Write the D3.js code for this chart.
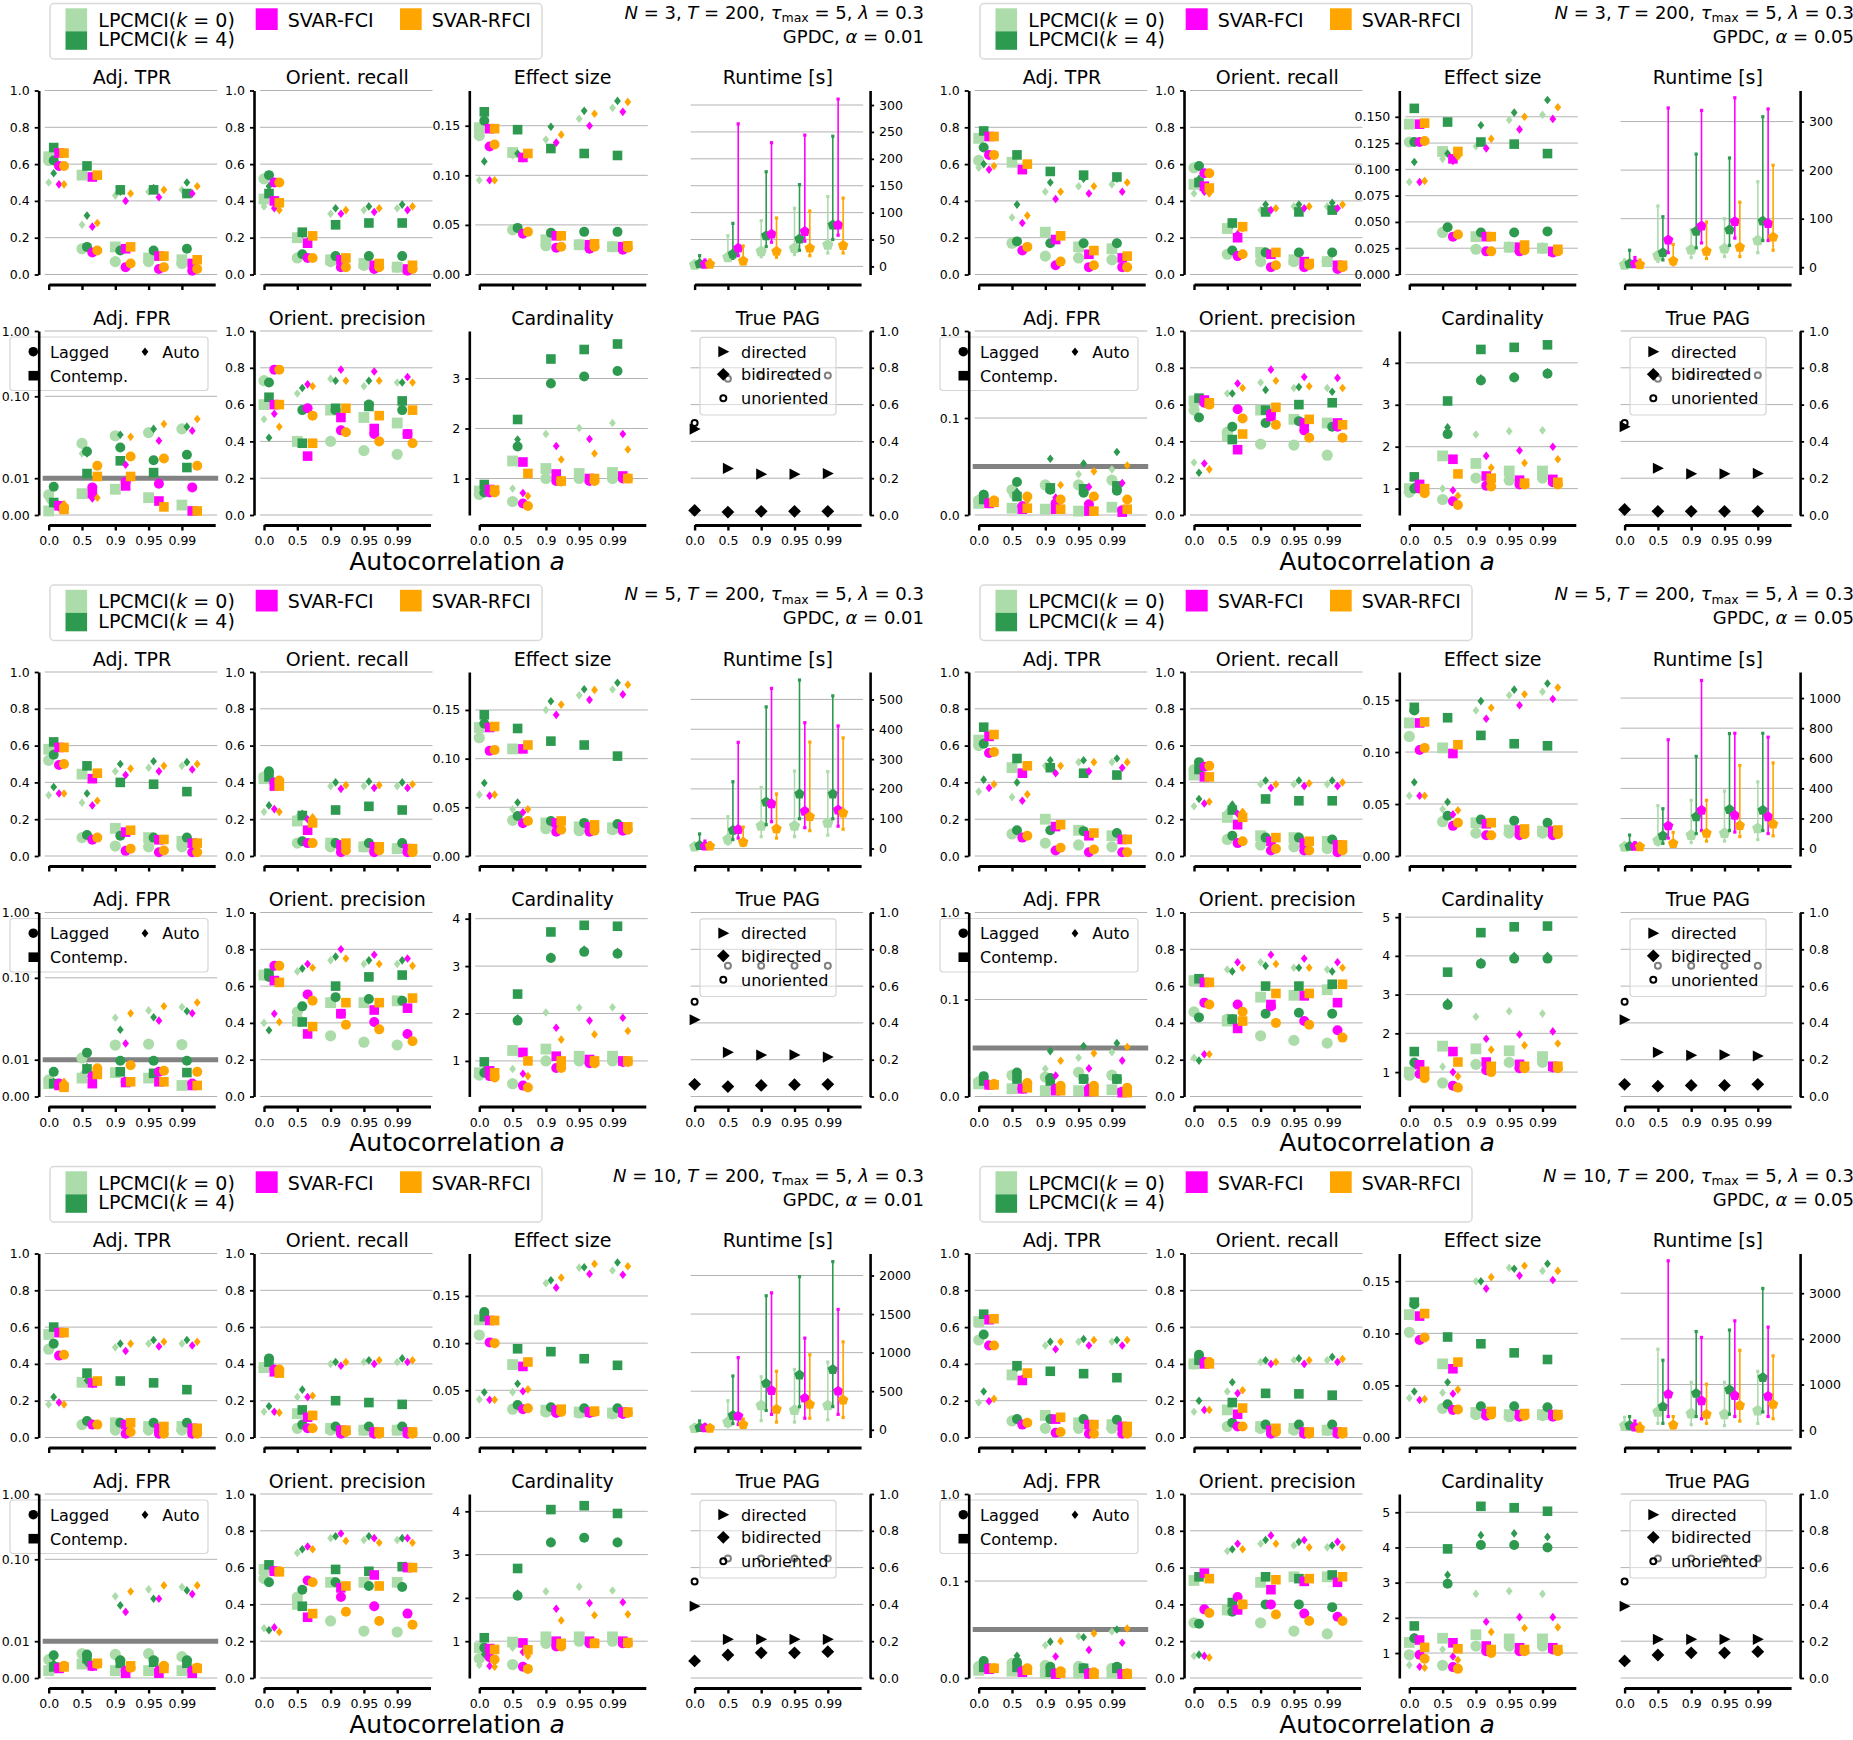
<!DOCTYPE html>
<html>
<head>
<meta charset="utf-8">
<script src="https://cdn.jsdelivr.net/npm/d3@7"></script>
<style>
  body { margin: 0; background: #fff; }
  svg text { font-family: "DejaVu Sans", sans-serif; white-space: pre; }
</style>
</head>
<body>
<div id="chart"></div>
<script>
// categories / labels
const xLabels = ["0.0", "0.5", "0.9", "0.95", "0.99"];
const methodNames = ["LPCMCI(k = 0)", "LPCMCI(k = 4)", "SVAR-FCI", "SVAR-RFCI"];
const panelN = [3, 3, 5, 5, 10, 10];
const panelAlpha = [0.01, 0.05, 0.01, 0.05, 0.01, 0.05];

// every 4x5 array: rows = LPCMCI(k=0), LPCMCI(k=4), SVAR-FCI, SVAR-RFCI ; cols = a 0.0 .. 0.99
// Lag = lagged (circle), Con = contemp. (square), Aut = auto (small diamond)

// panel 1 : N=3, alpha=0.01
const p1TprLag = [[.62,.14,.07,.07,.06],[.62,.15,.13,.13,.14],[.59,.12,.04,.03,.02],[.59,.13,.06,.04,.03]];
const p1TprCon = [[.64,.54,.15,.09,.08],[.69,.59,.46,.46,.44],[.66,.53,.14,.10,.06],[.66,.54,.15,.10,.08]];
const p1TprAut = [[.50,.27,.43,.45,.46],[.55,.32,.45,.47,.50],[.49,.26,.40,.42,.44],[.49,.28,.44,.46,.48]];
const p1OrcLag = [[.52,.09,.07,.05,.04],[.54,.11,.10,.10,.10],[.50,.09,.04,.03,.02],[.50,.09,.04,.04,.03]];
const p1OrcCon = [[.41,.20,.08,.06,.04],[.44,.23,.27,.28,.28],[.40,.17,.08,.05,.03],[.39,.21,.09,.06,.05]];
const p1OrcAut = [[.37,.21,.33,.35,.36],[.48,.22,.36,.37,.38],[.36,.18,.33,.34,.35],[.35,.21,.35,.36,.37]];
const p1EffLag = [[.140,.045,.029,.030,.028],[.155,.047,.042,.043,.043],[.129,.041,.027,.026,.025],[.131,.043,.028,.028,.027]];
const p1EffCon = [[.148,.123,.035,.030,.028],[.164,.146,.127,.122,.120],[.147,.118,.039,.030,.028],[.147,.122,.039,.031,.029]];
const p1EffAut = [[.095,.120,.136,.157,.168],[.114,.122,.149,.165,.175],[.095,.117,.133,.150,.164],[.095,.122,.141,.162,.174]];
const p1RtMean = [[3,17,28,34,40],[5,23,57,51,77],[4,34,60,65,77],[4,10,28,34,39]];
const p1RtLo = [[1,12,18,22,25],[2,15,37,30,50],[2,20,45,47,58],[2,5,17,20,25]];
const p1RtHi = [[8,57,85,108,130],[20,80,176,152,242],[12,265,230,244,311],[12,38,90,103,127]];
const p1FprLag = [[.0055,.0266,.033,.036,.040],[.0077,.0212,.0237,.0166,.0193],[.0025,.0075,.009,.0085,.0075],[.002,.0142,.0184,.0174,.0142]];
const p1FprCon = [[.0011,.0058,.007,.0047,.0027],[.0034,.0114,.0163,.0117,.0135],[.0025,.0058,.0079,.0038,.0011],[.0015,.0105,.0105,.0022,.0011]];
const p1FprAut = [[.004,.02,.032,.035,.04],[.003,.02,.034,.04,.0426],[.002,.0045,.0146,.0287,.038],[.003,.0047,.032,.046,.0529]];
const p1OprLag = [[.73,.40,.40,.35,.33],[.72,.57,.57,.60,.57],[.79,.58,.46,.44,.44],[.79,.54,.45,.40,.39]];
const p1OprCon = [[.60,.40,.57,.53,.50],[.64,.39,.58,.59,.62],[.60,.32,.53,.47,.44],[.60,.39,.58,.54,.57]];
const p1OprAut = [[.52,.66,.74,.70,.72],[.42,.69,.73,.73,.72],[.55,.71,.79,.78,.75],[.48,.70,.73,.73,.72]];
const p1CardLag = [[.68,.54,1.0,1.0,1.0],[.72,1.64,2.9,3.04,3.15],[.72,.50,.95,.95,1.0],[.72,.45,.94,.95,1.0]];
const p1CardCon = [[.75,1.35,1.2,1.1,1.12],[.88,2.18,3.39,3.58,3.69],[.78,1.33,1.09,1.0,1.05],[.77,1.1,.95,1.0,1.0]];
const p1CardAut = [[.75,.80,1.89,2.01,2.11],[.80,1.78,2.92,3.05,3.15],[.75,.71,1.65,1.79,1.89],[.75,.65,1.38,1.5,1.58]];
const p1PagDir = [.467,.253,.222,.222,.225];
const p1PagBid = [.025,.016,.02,.02,.02];
const p1PagUno = [.50,.74,.758,.758,.758];

// panel 2 : N=3, alpha=0.05
const p2TprLag = [[.62,.17,.10,.09,.08],[.69,.18,.17,.17,.17],[.65,.13,.05,.04,.04],[.65,.15,.07,.05,.04]];
const p2TprCon = [[.74,.61,.23,.15,.14],[.78,.65,.56,.54,.53],[.75,.57,.19,.11,.09],[.75,.60,.21,.13,.10]];
const p2TprAut = [[.58,.31,.45,.48,.49],[.60,.38,.50,.52,.52],[.57,.28,.41,.44,.45],[.59,.32,.45,.48,.50]];
const p2OrcLag = [[.58,.11,.07,.07,.07],[.59,.13,.12,.12,.12],[.55,.10,.04,.04,.03],[.55,.11,.05,.05,.04]];
const p2OrcCon = [[.49,.25,.12,.08,.07],[.50,.28,.34,.34,.35],[.48,.20,.11,.07,.05],[.47,.26,.12,.06,.05]];
const p2OrcAut = [[.44,.26,.35,.37,.37],[.52,.27,.38,.38,.39],[.45,.22,.35,.36,.36],[.44,.25,.36,.37,.38]];
const p2EffLag = [[.126,.040,.024,.026,.025],[.126,.045,.040,.040,.041],[.126,.036,.022,.022,.021],[.127,.038,.022,.023,.022]];
const p2EffCon = [[.143,.117,.036,.026,.025],[.158,.145,.126,.124,.115],[.143,.110,.036,.026,.022],[.144,.117,.036,.028,.024]];
const p2EffAut = [[.088,.110,.122,.147,.152],[.107,.115,.142,.154,.166],[.088,.108,.120,.138,.148],[.089,.112,.129,.150,.159]];
const p2RtMean = [[5,24,36,38,55],[7,30,74,77,95],[7,56,85,94,90],[5,13,33,41,62]];
const p2RtLo = [[2,12,20,22,30],[2,15,40,45,55],[3,30,50,60,55],[2,5,18,22,35]];
const p2RtHi = [[15,126,77,100,176],[35,104,233,225,310],[20,328,323,349,326],[15,47,93,134,210]];
const p2FprLag = [[.015,.026,.031,.031,.036],[.021,.034,.026,.023,.025],[.012,.009,.012,.011,.005],[.015,.019,.016,.019,.016]];
const p2FprCon = [[.012,.007,.006,.004,.008],[.016,.019,.028,.027,.030],[.012,.006,.006,.004,.003],[.013,.007,.006,.004,.006]];
const p2FprAut = [[.017,.020,.030,.042,.047],[.022,.024,.058,.053,.065],[.013,.010,.018,.029,.033],[.016,.015,.031,.045,.051]];
const p2OprLag = [[.57,.45,.385,.38,.325],[.53,.48,.50,.51,.48],[.61,.575,.55,.46,.48],[.60,.525,.49,.42,.42]];
const p2OprCon = [[.62,.43,.57,.52,.50],[.635,.41,.57,.60,.61],[.625,.355,.535,.50,.50],[.61,.44,.585,.52,.49]];
const p2OprAut = [[.285,.66,.72,.69,.69],[.23,.66,.68,.695,.67],[.28,.715,.79,.75,.745],[.248,.69,.73,.70,.69]];
const p2CardLag = [[.91,.74,1.25,1.2,1.25],[1.0,2.3,3.58,3.65,3.74],[1.0,.70,1.07,1.1,1.15],[.89,.61,1.05,1.1,1.1]];
const p2CardCon = [[1.0,1.78,1.6,1.42,1.42],[1.28,3.09,4.32,4.37,4.43],[1.1,1.7,1.3,1.2,1.22],[1.0,1.35,1.25,1.13,1.15]];
const p2CardAut = [[1.0,1.0,2.29,2.37,2.39],[1.05,2.46,3.63,3.68,3.78],[1.0,.96,1.78,1.91,2.0],[.95,.83,1.5,1.61,1.7]];
const p2PagDir = [.48,.254,.224,.224,.226];
const p2PagBid = [.03,.02,.02,.02,.02];
const p2PagUno = [.50,.74,.76,.76,.76];

// panel 3 : N=5, alpha=0.01
const p3TprLag = [[.52,.10,.054,.05,.05],[.55,.114,.11,.10,.10],[.495,.088,.028,.02,.02],[.50,.10,.04,.03,.02]];
const p3TprCon = [[.58,.445,.15,.10,.08],[.62,.49,.40,.39,.35],[.59,.42,.13,.088,.07],[.59,.45,.14,.09,.07]];
const p3TprAut = [[.33,.29,.46,.48,.49],[.375,.34,.50,.515,.51],[.34,.275,.44,.46,.47],[.34,.30,.475,.49,.50]];
const p3OrcLag = [[.43,.07,.05,.05,.04],[.46,.08,.07,.07,.07],[.40,.07,.02,.02,.02],[.41,.07,.03,.03,.02]];
const p3OrcCon = [[.42,.19,.07,.05,.04],[.43,.22,.25,.27,.25],[.38,.14,.06,.05,.04],[.38,.18,.07,.05,.04]];
const p3OrcAut = [[.24,.21,.38,.38,.38],[.275,.23,.40,.405,.40],[.255,.20,.365,.37,.37],[.24,.21,.385,.385,.39]];
const p3EffLag = [[.1215,.0366,.028,.026,.027],[.136,.041,.036,.034,.0328],[.108,.0336,.025,.025,.026],[.109,.036,.027,.026,.027]];
const p3EffCon = [[.132,.110,.034,.030,.029],[.145,.131,.118,.114,.1026],[.132,.110,.034,.030,.030],[.133,.114,.036,.032,.030]];
const p3EffAut = [[.063,.048,.150,.165,.171],[.075,.055,.159,.1713,.178],[.062,.045,.145,.1604,.166],[.063,.048,.1555,.1706,.176]];
const p3RtMean = [[6,31,76,76,86],[10,61,156,183,183],[8,64,150,125,129],[8,21,66,107,119]];
const p3RtLo = [[3,15,40,40,45],[4,30,80,100,100],[4,35,90,70,75],[4,10,35,60,65]];
const p3RtHi = [[15,107,205,260,258],[49,224,475,565,512],[25,356,537,422,411],[20,72,183,357,371]];
const p3FprLag = [[.0045,.0105,.0151,.0155,.0153],[.0067,.0122,.0097,.0097,.0097],[.0035,.0055,.004,.0067,.0035],[.003,.0077,.0085,.007,.0067]];
const p3FprCon = [[.0035,.005,.0065,.005,.003],[.0035,.0075,.0067,.0063,.0065],[.003,.0035,.0038,.004,.003],[.0025,.006,.004,.004,.003]];
const p3FprAut = [[.004,.006,.0326,.040,.044],[.004,.008,.0232,.033,.039],[.003,.005,.0158,.030,.037],[.004,.007,.0368,.045,.050]];
const p3OprLag = [[.66,.46,.33,.295,.28],[.65,.49,.54,.53,.52],[.71,.555,.45,.405,.34],[.71,.52,.39,.365,.30]];
const p3OprCon = [[.66,.41,.51,.51,.52],[.67,.405,.60,.65,.66],[.63,.34,.45,.47,.48],[.62,.38,.51,.51,.535]];
const p3OprAut = [[.40,.68,.74,.72,.72],[.36,.695,.76,.74,.74],[.45,.72,.80,.77,.75],[.405,.70,.75,.72,.71]];
const p3CardLag = [[.70,.52,1.0,1.0,1.0],[.75,1.85,3.17,3.3,3.26],[.68,.48,.85,.95,.98],[.65,.44,.85,.95,.98]];
const p3CardCon = [[.75,1.22,1.25,1.1,1.1],[.98,2.41,3.72,3.86,3.84],[.79,1.18,1.1,1.03,1.0],[.75,1.0,1.0,1.0,1.0]];
const p3CardAut = [[.70,.83,2.02,2.12,2.13],[.80,1.9,3.2,3.35,3.3],[.72,.73,1.7,1.85,1.91],[.70,.68,1.45,1.56,1.63]];
const p3PagDir = [.417,.24,.225,.226,.214];
const p3PagBid = [.066,.054,.06,.064,.066];
const p3PagUno = [.515,.71,.71,.71,.71];

// panel 4 : N=5, alpha=0.05
const p4TprLag = [[.60,.12,.07,.06,.05],[.61,.14,.14,.135,.125],[.56,.10,.03,.02,.02],[.565,.11,.045,.035,.02]];
const p4TprCon = [[.63,.48,.20,.14,.11],[.70,.53,.48,.45,.44],[.65,.45,.16,.11,.09],[.66,.49,.17,.125,.09]];
const p4TprAut = [[.35,.32,.49,.51,.51],[.415,.40,.52,.52,.53],[.37,.30,.45,.46,.48],[.39,.335,.49,.51,.51]];
const p4OrcLag = [[.47,.09,.06,.05,.04],[.51,.11,.10,.10,.09],[.485,.07,.03,.03,.02],[.49,.08,.04,.03,.03]];
const p4OrcCon = [[.44,.21,.11,.10,.08],[.47,.25,.31,.30,.30],[.43,.17,.08,.07,.06],[.43,.21,.10,.08,.06]];
const p4OrcAut = [[.27,.24,.39,.39,.39],[.31,.28,.41,.41,.41],[.285,.23,.37,.38,.38],[.295,.24,.39,.395,.40]];
const p4EffLag = [[.115,.033,.022,.022,.022],[.140,.0387,.035,.034,.032],[.102,.029,.020,.020,.020],[.104,.032,.020,.021,.021]];
const p4EffCon = [[.128,.104,.032,.025,.024],[.143,.133,.116,.108,.106],[.128,.0986,.031,.025,.024],[.129,.107,.032,.026,.025]];
const p4EffAut = [[.058,.045,.140,.1546,.158],[.071,.052,.149,.160,.166],[.058,.040,.132,.145,.151],[.058,.044,.1426,.1556,.162]];
const p4RtMean = [[12,54,90,102,134],[15,85,212,260,255],[15,151,255,221,212],[12,34,102,153,163]];
const p4RtLo = [[5,25,40,50,60],[5,35,100,120,120],[6,70,120,110,100],[5,15,50,80,85]];
const p4RtHi = [[30,285,321,382,443],[90,265,613,764,766],[40,723,1117,766,740],[30,107,321,552,569]];
const p4FprLag = [[.015,.022,.020,.025,.022],[.021,.0247,.019,.018,.018],[.012,.008,.008,.008,.005],[.013,.014,.011,.011,.009]];
const p4FprCon = [[.013,.008,.006,.006,.007],[.016,.018,.016,.018,.018],[.012,.008,.006,.005,.004],[.012,.009,.006,.005,.004]];
const p4FprAut = [[.015,.020,.0285,.040,.0456],[.020,.020,.0468,.052,.055],[.013,.010,.0217,.029,.037],[.014,.012,.0369,.0445,.051]];
const p4OprLag = [[.46,.42,.33,.305,.29],[.43,.42,.45,.455,.45],[.51,.50,.49,.41,.36],[.50,.46,.40,.39,.32]];
const p4OprCon = [[.63,.41,.54,.55,.58],[.64,.42,.60,.60,.61],[.62,.37,.50,.547,.51],[.62,.41,.56,.56,.61]];
const p4OprAut = [[.21,.69,.73,.70,.69],[.195,.68,.71,.70,.68],[.23,.73,.77,.75,.73],[.23,.70,.72,.70,.70]];
const p4CardLag = [[.92,.72,1.2,1.25,1.25],[1.25,2.73,3.8,3.93,3.93],[.95,.65,1.05,1.1,1.12],[.84,.60,1.0,1.1,1.1]];
const p4CardCon = [[1.0,1.67,1.6,1.55,1.4],[1.53,3.58,4.6,4.75,4.77],[1.19,1.53,1.26,1.2,1.15],[1.02,1.26,1.15,1.15,1.15]];
const p4CardAut = [[.9,1.14,2.43,2.57,2.51],[1.2,2.8,3.85,4.0,4.0],[1.0,1.0,1.86,1.97,2.05],[.92,.89,1.58,1.69,1.74]];
const p4PagDir = [.417,.24,.224,.226,.22];
const p4PagBid = [.066,.056,.06,.06,.066];
const p4PagUno = [.515,.71,.71,.71,.71];

// panel 5 : N=10, alpha=0.01
const p5TprLag = [[.48,.07,.04,.04,.04],[.51,.09,.08,.08,.08],[.445,.07,.02,.02,.02],[.45,.07,.03,.02,.02]];
const p5TprCon = [[.56,.30,.08,.06,.06],[.60,.35,.307,.297,.26],[.57,.297,.07,.05,.05],[.57,.307,.08,.06,.05]];
const p5TprAut = [[.18,.30,.49,.51,.51],[.22,.31,.51,.53,.53],[.19,.29,.47,.495,.50],[.18,.30,.51,.52,.52]];
const p5OrcLag = [[.38,.05,.04,.04,.04],[.43,.07,.06,.06,.06],[.37,.05,.02,.02,.02],[.37,.05,.03,.02,.02]];
const p5OrcCon = [[.38,.13,.05,.04,.04],[.41,.15,.20,.19,.18],[.357,.11,.04,.03,.03],[.35,.12,.04,.03,.03]];
const p5OrcAut = [[.14,.22,.40,.41,.41],[.17,.26,.41,.42,.43],[.14,.22,.39,.40,.41],[.135,.227,.41,.42,.42]];
const p5EffLag = [[.1086,.030,.027,.026,.025],[.133,.0345,.032,.031,.031],[.1008,.030,.026,.026,.025],[.100,.031,.027,.027,.026]];
const p5EffCon = [[.1247,.0773,.029,.027,.026],[.128,.094,.091,.0835,.0765],[.124,.0753,.029,.027,.027],[.124,.080,.030,.028,.027]];
const p5EffAut = [[.0404,.048,.1635,.180,.177],[.048,.057,.1667,.1804,.1855],[.040,.049,.1588,.1733,.1725],[.040,.051,.1694,.184,.1815]];
const p5RtMean = [[20,100,315,253,315],[30,186,601,711,782],[25,177,510,410,501],[20,67,267,329,386]];
const p5RtLo = [[8,40,120,100,130],[10,80,250,300,300],[10,70,200,150,200],[8,30,100,150,160]];
const p5RtHi = [[50,377,687,782,878],[115,697,1737,1985,2180],[60,935,1775,1188,1560],[50,138,758,973,1140]];
const p5FprLag = [[.005,.0066,.0064,.0066,.0058],[.0062,.0064,.0048,.0048,.0048],[.0028,.0033,.002,.002,.002],[.0033,.0038,.0028,.0033,.0028]];
const p5FprCon = [[.002,.0038,.002,.002,.002],[.003,.0053,.004,.0043,.004],[.0026,.0033,.0013,.0013,.0013],[.003,.004,.0033,.0026,.0026]];
const p5FprAut = [[.003,.004,.0353,.043,.046],[.004,.004,.0274,.033,.0417],[.003,.003,.0228,.033,.0376],[.003,.004,.0404,.048,.048]];
const p5OprLag = [[.54,.44,.31,.255,.25],[.52,.48,.52,.50,.495],[.58,.53,.44,.39,.35],[.58,.52,.36,.31,.29]];
const p5OprCon = [[.59,.40,.52,.52,.52],[.615,.39,.59,.58,.605],[.58,.33,.49,.56,.60],[.577,.35,.50,.50,.60]];
const p5OprAut = [[.27,.68,.76,.75,.75],[.26,.70,.77,.77,.76],[.275,.715,.785,.76,.76],[.25,.70,.745,.735,.735]];
const p5CardLag = [[.60,.46,.95,1.0,1.0],[.85,2.05,3.28,3.39,3.28],[.63,.41,.88,.95,.95],[.58,.36,.88,.95,.95]];
const p5CardCon = [[.85,.98,1.1,1.1,1.1],[1.08,2.68,4.04,4.13,3.95],[.83,.96,1.0,1.0,1.0],[.81,.80,.95,.95,.97]];
const p5CardAut = [[.45,.85,2.15,2.26,2.17],[.70,2.1,3.3,3.4,3.3],[.43,.75,1.75,1.88,1.9],[.41,.66,1.48,1.6,1.62]];
const p5PagDir = [.39,.21,.21,.21,.21];
const p5PagBid = [.093,.125,.137,.137,.143];
const p5PagUno = [.524,.65,.65,.65,.65];

// panel 6 : N=10, alpha=0.05
const p6TprLag = [[.53,.09,.05,.05,.05],[.56,.10,.10,.10,.096],[.50,.07,.026,.02,.02],[.50,.08,.03,.02,.02]];
const p6TprCon = [[.63,.34,.12,.08,.07],[.67,.39,.36,.347,.325],[.64,.31,.10,.07,.06],[.645,.35,.11,.07,.06]];
const p6TprAut = [[.19,.35,.50,.52,.52],[.25,.38,.52,.535,.53],[.197,.32,.48,.50,.50],[.21,.35,.52,.53,.53]];
const p6OrcLag = [[.40,.06,.05,.04,.04],[.45,.08,.07,.07,.07],[.41,.06,.02,.02,.02],[.41,.06,.03,.02,.02]];
const p6OrcCon = [[.40,.15,.06,.05,.04],[.42,.19,.24,.237,.23],[.40,.126,.04,.03,.03],[.40,.16,.05,.03,.03]];
const p6OrcAut = [[.14,.25,.41,.42,.42],[.20,.30,.42,.43,.438],[.15,.24,.40,.40,.41],[.15,.257,.41,.42,.427]];
const p6EffLag = [[.101,.028,.022,.020,.021],[.128,.032,.030,.030,.029],[.0936,.0265,.021,.020,.020],[.096,.027,.022,.021,.021]];
const p6EffCon = [[.118,.0707,.024,.022,.022],[.130,.0965,.090,.0813,.0749],[.1166,.066,.023,.022,.022],[.119,.0724,.025,.023,.022]];
const p6EffAut = [[.038,.043,.150,.163,.160],[.0442,.053,.150,.162,.1668],[.036,.042,.143,.1555,.1512],[.037,.046,.154,.165,.160]];
const p6RtMean = [[97,403,363,347,427],[105,516,806,887,1153],[70,790,645,758,742],[40,113,347,540,565]];
const p6RtLo = [[30,150,120,100,150],[30,150,300,350,400],[20,300,250,300,300],[10,50,150,200,250]];
const p6RtHi = [[282,1774,1048,1048,1290],[298,1532,2161,2193,3105],[200,3710,2032,2395,2258],[150,298,1008,1750,1629]];
const p6FprLag = [[.012,.015,.013,.012,.010],[.0176,.0165,.0115,.010,.0115],[.010,.007,.005,.005,.004],[.010,.010,.007,.006,.005]];
const p6FprCon = [[.008,.007,.005,.005,.005],[.011,.011,.006,.010,.010],[.009,.006,.004,.004,.004],[.010,.008,.005,.004,.004]];
const p6FprAut = [[.010,.012,.0337,.043,.048],[.012,.023,.0375,.042,.050],[.009,.008,.0222,.029,.0364],[.010,.009,.038,.046,.051]];
const p6OprLag = [[.30,.37,.30,.255,.24],[.295,.36,.40,.40,.385],[.373,.44,.40,.35,.333],[.353,.40,.345,.31,.31]];
const p6OprCon = [[.53,.37,.52,.55,.55],[.55,.41,.55,.54,.56],[.57,.37,.48,.525,.52],[.54,.40,.534,.54,.55]];
const p6OprAut = [[.12,.69,.73,.72,.71],[.127,.70,.75,.74,.72],[.12,.73,.775,.75,.74],[.111,.70,.73,.71,.71]];
const p6CardLag = [[.95,.65,1.2,1.2,1.2],[1.42,2.97,4.07,4.07,4.0],[.95,.60,1.05,1.05,1.1],[.84,.55,1.0,1.05,1.05]];
const p6CardCon = [[1.3,1.42,1.52,1.4,1.4],[1.77,3.96,5.17,5.13,5.03],[1.37,1.29,1.2,1.15,1.15],[1.16,1.12,1.1,1.1,1.1]];
const p6CardAut = [[.66,1.1,2.68,2.76,2.68],[1.45,3.22,4.35,4.4,4.3],[.61,.9,1.89,2.02,2.02],[.58,.8,1.6,1.71,1.73]];
const p6PagDir = [.39,.21,.21,.21,.21];
const p6PagBid = [.093,.125,.137,.137,.143];
const p6PagUno = [.524,.65,.65,.65,.65];

// axis extents
const effTop = [0.1855, 0.175, 0.189, 0.177, 0.195, 0.1767];
const effStep = [0.05, 0.025, 0.05, 0.05, 0.05, 0.05];
const cardDom = [[0.27, 3.95], [0.37, 4.76], [0.25, 4.13], [0.37, 5.12], [0.15, 4.4], [0.29, 5.52]];
const rtDom = [[-15, 327], [-15, 364], [-25, 592], [-49, 1173], [-100, 2285], [-160, 3870]];
const rtStep = [50, 100, 100, 200, 500, 1000];

const panels = [
  {tpr:[p1TprLag,p1TprCon,p1TprAut], orc:[p1OrcLag,p1OrcCon,p1OrcAut], eff:[p1EffLag,p1EffCon,p1EffAut], rt:[p1RtMean,p1RtLo,p1RtHi], fpr:[p1FprLag,p1FprCon,p1FprAut], opr:[p1OprLag,p1OprCon,p1OprAut], card:[p1CardLag,p1CardCon,p1CardAut], pag:[p1PagDir,p1PagBid,p1PagUno]},
  {tpr:[p2TprLag,p2TprCon,p2TprAut], orc:[p2OrcLag,p2OrcCon,p2OrcAut], eff:[p2EffLag,p2EffCon,p2EffAut], rt:[p2RtMean,p2RtLo,p2RtHi], fpr:[p2FprLag,p2FprCon,p2FprAut], opr:[p2OprLag,p2OprCon,p2OprAut], card:[p2CardLag,p2CardCon,p2CardAut], pag:[p2PagDir,p2PagBid,p2PagUno]},
  {tpr:[p3TprLag,p3TprCon,p3TprAut], orc:[p3OrcLag,p3OrcCon,p3OrcAut], eff:[p3EffLag,p3EffCon,p3EffAut], rt:[p3RtMean,p3RtLo,p3RtHi], fpr:[p3FprLag,p3FprCon,p3FprAut], opr:[p3OprLag,p3OprCon,p3OprAut], card:[p3CardLag,p3CardCon,p3CardAut], pag:[p3PagDir,p3PagBid,p3PagUno]},
  {tpr:[p4TprLag,p4TprCon,p4TprAut], orc:[p4OrcLag,p4OrcCon,p4OrcAut], eff:[p4EffLag,p4EffCon,p4EffAut], rt:[p4RtMean,p4RtLo,p4RtHi], fpr:[p4FprLag,p4FprCon,p4FprAut], opr:[p4OprLag,p4OprCon,p4OprAut], card:[p4CardLag,p4CardCon,p4CardAut], pag:[p4PagDir,p4PagBid,p4PagUno]},
  {tpr:[p5TprLag,p5TprCon,p5TprAut], orc:[p5OrcLag,p5OrcCon,p5OrcAut], eff:[p5EffLag,p5EffCon,p5EffAut], rt:[p5RtMean,p5RtLo,p5RtHi], fpr:[p5FprLag,p5FprCon,p5FprAut], opr:[p5OprLag,p5OprCon,p5OprAut], card:[p5CardLag,p5CardCon,p5CardAut], pag:[p5PagDir,p5PagBid,p5PagUno]},
  {tpr:[p6TprLag,p6TprCon,p6TprAut], orc:[p6OrcLag,p6OrcCon,p6OrcAut], eff:[p6EffLag,p6EffCon,p6EffAut], rt:[p6RtMean,p6RtLo,p6RtHi], fpr:[p6FprLag,p6FprCon,p6FprAut], opr:[p6OprLag,p6OprCon,p6OprAut], card:[p6CardLag,p6CardCon,p6CardAut], pag:[p6PagDir,p6PagBid,p6PagUno]}
];

// ---------- layout ----------
const FONT = "DejaVu Sans, sans-serif";
const colors = ["#acdcaa", "#2e9a50", "#ff00ff", "#ffa500"];
const offs = [0, 0.15, 0.31, 0.46];
const lagR = [5.6, 5.0, 5.0, 5.0], conH = [5.4, 4.8, 4.8, 4.8];
const panelX = [0, 930], panelY = [0, 581.5, 1163];
const colX0 = [48.7, 264, 479.3, 694.6], colW = 166.5;
const rowTop = [90.5, 331], rowH = 184;
const LEG_ALPHA = 0.5;

const svg = d3.select("#chart").append("svg").attr("width", 1853).attr("height", 1740);

function shape(t, m) {
  if (t === 0) return d3.symbol(d3.symbolCircle, Math.PI * lagR[m] * lagR[m])();
  if (t === 1) { const h = conH[m]; return `M${-h},${-h}H${h}V${h}H${-h}Z`; }
  return "M0,-4.3L3.4,0L0,4.3L-3.4,0Z";
}
function pentagon(r) {
  return d3.line()(d3.range(5).map(k => {
    const a = -Math.PI / 2 + k * 2 * Math.PI / 5;
    return [r * Math.cos(a), r * Math.sin(a)];
  })) + "Z";
}
const triPath = "M-5,-5.6L6,0L-5,5.6Z";
const diaPath = "M0,-6.4L6.4,0L0,6.4L-6.4,0Z";

function sub(g, col, row, title) {
  const x0 = colX0[col], x1 = x0 + colW, top = rowTop[row], bot = top + rowH;
  const s = g.append("g");
  s.append("text").attr("x", (x0 + x1) / 2).attr("y", top - 6.5)
    .attr("text-anchor", "middle").attr("font-size", 19).text(title);
  return { s, x: d3.scaleLinear().domain([0, 5]).range([x0, x1]), x0, x1, top, bot, row };
}

function grid(sp, ys) {
  sp.s.append("g").selectAll("line").data(ys).join("line")
    .attr("x1", sp.x0 - 4).attr("x2", sp.x1 + 2)
    .attr("y1", d => d).attr("y2", d => d)
    .attr("stroke", "#b3b3b3").attr("stroke-width", 1);
}

function xAxis(sp) {
  const a = sp.s.append("g").attr("transform", `translate(0,${sp.bot + 10})`)
    .call(d3.axisBottom(sp.x).tickValues([0, 1, 2, 3, 4]).tickSize(5.5).tickSizeOuter(0).tickPadding(6)
      .tickFormat(d => sp.row === 1 ? xLabels[d] : ""));
  a.attr("font-family", FONT).attr("font-size", 12.5);
  a.select(".domain").attr("stroke-width", 2.8);
  a.selectAll(".tick line").attr("stroke-width", 2.4);
}

function yAxis(sp, scale, ticks, fmt, right) {
  const ax = (right ? d3.axisRight(scale) : d3.axisLeft(scale))
    .tickValues(ticks).tickFormat(fmt).tickSize(4).tickSizeOuter(0).tickPadding(5);
  const a = sp.s.append("g")
    .attr("transform", `translate(${right ? sp.x1 + 9 : sp.x0 - 10},0)`).call(ax);
  a.attr("font-family", FONT).attr("font-size", 12.5);
  a.select(".domain").attr("stroke-width", 2.6);
  a.selectAll(".tick line").attr("stroke-width", 1.8);
}

function scatter(sp, y, sets) {
  const pts = [];
  for (let m = 0; m < 4; m++)
    for (let t = 0; t < 3; t++)
      sets[t][m].forEach((v, i) => pts.push({ m, t, i, v }));
  sp.s.append("g").selectAll("path").data(pts).join("path")
    .attr("d", d => shape(d.t, d.m))
    .attr("transform", d => `translate(${sp.x(d.i + offs[d.m])},${y(d.v)})`)
    .attr("fill", d => colors[d.m]);
}

function linearPlot(sp, sets, domain, ticks, fmt) {
  const y = d3.scaleLinear().domain(domain).range([sp.bot, sp.top]);
  grid(sp, ticks.map(y));
  scatter(sp, y, sets);
  yAxis(sp, y, ticks, fmt, false);
  xAxis(sp);
}

// Adj. FPR y axis: linear below the threshold, logarithmic per decade above
function fprT(v, alpha) {
  if (alpha === 0.01) {
    if (v <= 0.01) return 0.2 * v / 0.01;
    if (v <= 0.1) return 0.2 + 0.445 * Math.log10(v / 0.01);
    return 0.645 + 0.355 * Math.log10(v / 0.1);
  }
  if (v <= 0.1) return 0.527 * v / 0.1;
  return 0.527 + 0.473 * Math.log10(v / 0.1);
}

function fprPlot(sp, sets, alpha) {
  const yl = d3.scaleLinear().domain([0, 1]).range([sp.bot, sp.top]);
  const y = v => yl(fprT(v, alpha));
  const tv = alpha === 0.01 ? [0, 0.01, 0.1, 1] : [0, 0.1, 1];
  const tl = alpha === 0.01 ? ["0.00", "0.01", "0.10", "1.00"] : ["0.0", "0.1", "1.0"];
  grid(sp, tv.filter(v => v !== alpha).map(y));
  sp.s.append("line").attr("x1", sp.x0 - 6).attr("x2", sp.x1 + 3)
    .attr("y1", y(alpha)).attr("y2", y(alpha))
    .attr("stroke", "#828282").attr("stroke-width", 5);
  scatter(sp, y, sets);
  // marker legend
  const lg = sp.s.append("g");
  lg.append("rect").attr("x", 10).attr("y", 337).attr("width", 198).attr("height", 53.5).attr("rx", 3)
    .attr("fill", "#fff").attr("fill-opacity", LEG_ALPHA + 0.3).attr("stroke", "#d6d6d6").attr("stroke-width", 1.2);
  lg.append("circle").attr("cx", 33.3).attr("cy", 351.7).attr("r", 4.8);
  lg.append("path").attr("d", shape(2, 1)).attr("transform", "translate(145,351.7)");
  lg.append("path").attr("d", shape(1, 1)).attr("transform", "translate(33.3,375.7)");
  lg.append("text").attr("x", 50).attr("y", 357.5).attr("font-size", 16).text("Lagged");
  lg.append("text").attr("x", 162.3).attr("y", 357.5).attr("font-size", 16).text("Auto");
  lg.append("text").attr("x", 50).attr("y", 381.5).attr("font-size", 16).text("Contemp.");
  yAxis(sp, yl, tv.map(v => fprT(v, alpha)), (d, i) => tl[i], false);
  xAxis(sp);
}

function runtimePlot(sp, rt, domain, step) {
  const [mean, lo, hi] = rt;
  const y = d3.scaleLinear().domain(domain).range([sp.bot, sp.top]);
  const ticks = d3.range(0, domain[1] + 1e-9, step);
  grid(sp, ticks.map(y));
  const pts = [];
  for (let m = 0; m < 4; m++) mean[m].forEach((v, i) => pts.push({ m, i, v, lo: lo[m][i], hi: hi[m][i] }));
  const gg = sp.s.append("g");
  pts.forEach(d => {
    const cx = sp.x(d.i + offs[d.m]);
    gg.append("line").attr("x1", cx).attr("x2", cx).attr("y1", y(d.lo)).attr("y2", y(d.hi))
      .attr("stroke", colors[d.m]).attr("stroke-width", 1.6);
    [d.lo, d.hi].forEach(c => gg.append("rect").attr("x", cx - 1.6).attr("y", y(c) - 1.6)
      .attr("width", 3.2).attr("height", 3.2).attr("fill", colors[d.m]));
    gg.append("path").attr("d", pentagon(d.m === 0 ? 6 : 5.5))
      .attr("transform", `translate(${cx},${y(d.v)})`).attr("fill", colors[d.m]);
  });
  yAxis(sp, y, ticks, d3.format("d"), true);
  xAxis(sp);
}

function pagPlot(sp, pag) {
  const y = d3.scaleLinear().domain([0, 1]).range([sp.bot, sp.top]);
  const ticks = [0, 0.2, 0.4, 0.6, 0.8, 1];
  grid(sp, ticks.map(y));
  const [dir, bid, uno] = pag;
  const gg = sp.s.append("g");
  gg.selectAll(".dir").data(dir).join("path").attr("d", triPath)
    .attr("transform", (v, i) => `translate(${sp.x(i)},${y(v)})`);
  gg.selectAll(".bid").data(bid).join("path").attr("d", diaPath)
    .attr("transform", (v, i) => `translate(${sp.x(i)},${y(v)})`);
  gg.selectAll(".uno").data(uno).join("circle").attr("r", 3)
    .attr("cx", (v, i) => sp.x(i)).attr("cy", v => y(v))
    .attr("fill", "none").attr("stroke", "#000").attr("stroke-width", 2);
  const lg = sp.s.append("g");
  lg.append("rect").attr("x", 700).attr("y", 337.3).attr("width", 136).attr("height", 77.7).attr("rx", 3)
    .attr("fill", "#fff").attr("fill-opacity", LEG_ALPHA).attr("stroke", "#d6d6d6").attr("stroke-width", 1.2);
  lg.append("path").attr("d", triPath).attr("transform", "translate(723.3,351.7)");
  lg.append("path").attr("d", diaPath).attr("transform", "translate(723.3,374.3)");
  lg.append("circle").attr("cx", 723.3).attr("cy", 398.3).attr("r", 3)
    .attr("fill", "none").attr("stroke", "#000").attr("stroke-width", 2);
  [["directed", 357.5], ["bidirected", 380.1], ["unoriented", 404.1]].forEach(([t, yy]) =>
    lg.append("text").attr("x", 741).attr("y", yy).attr("font-size", 16).text(t));
  yAxis(sp, y, ticks, d3.format(".1f"), true);
  xAxis(sp);
}

function header(g, p) {
  // method legend
  g.append("rect").attr("x", 50).attr("y", 3.5).attr("width", 492).attr("height", 55.5).attr("rx", 4)
    .attr("fill", "#fff").attr("stroke", "#d9d9d9").attr("stroke-width", 1.5);
  g.append("rect").attr("x", 65.5).attr("y", 8.3).attr("width", 21.6).attr("height", 23).attr("fill", colors[0]);
  g.append("rect").attr("x", 65.5).attr("y", 31.3).attr("width", 21.6).attr("height", 18.5).attr("fill", colors[1]);
  g.append("rect").attr("x", 255.7).attr("y", 8.3).attr("width", 22).attr("height", 21.7).attr("fill", colors[2]);
  g.append("rect").attr("x", 400).attr("y", 8.3).attr("width", 21.7).attr("height", 21.7).attr("fill", colors[3]);
  [[methodNames[0], 98.3, 26.5], [methodNames[1], 98.3, 46]].forEach(([nm, x, y]) => {
    const t = g.append("text").attr("x", x).attr("y", y).attr("font-size", 19);
    const parts = nm.split("k");
    t.append("tspan").text(parts[0]);
    t.append("tspan").attr("font-style", "italic").text("k");
    t.append("tspan").text(parts[1]);
  });
  g.append("text").attr("x", 287.7).attr("y", 26.5).attr("font-size", 19).text(methodNames[2]);
  g.append("text").attr("x", 431.7).attr("y", 26.5).attr("font-size", 19).text(methodNames[3]);

  // setup title
  const t1 = g.append("text").attr("x", 924).attr("y", 18.5).attr("text-anchor", "end").attr("font-size", 18);
  t1.append("tspan").attr("font-style", "italic").text("N");
  t1.append("tspan").text(` = ${panelN[p]}, `);
  t1.append("tspan").attr("font-style", "italic").text("T");
  t1.append("tspan").text(" = 200, ");
  t1.append("tspan").attr("font-style", "italic").text("τ");
  t1.append("tspan").attr("font-size", 12.5).attr("dy", 3.5).text("max");
  t1.append("tspan").attr("dy", -3.5).text(" = 5, ");
  t1.append("tspan").attr("font-style", "italic").text("λ");
  t1.append("tspan").text(" = 0.3");
  const t2 = g.append("text").attr("x", 924).attr("y", 42.5).attr("text-anchor", "end").attr("font-size", 18);
  t2.append("tspan").text("GPDC, ");
  t2.append("tspan").attr("font-style", "italic").text("α");
  t2.append("tspan").text(` = ${panelAlpha[p]}`);

  // x label
  const xl = g.append("text").attr("x", 457).attr("y", 569.5).attr("text-anchor", "middle").attr("font-size", 25);
  xl.append("tspan").text("Autocorrelation ");
  xl.append("tspan").attr("font-style", "italic").text("a");
}

const unitTicks = [0, 0.2, 0.4, 0.6, 0.8, 1];
const f1 = d3.format(".1f");

panels.forEach((P, p) => {
  const g = svg.append("g")
    .attr("transform", `translate(${panelX[p % 2]},${panelY[Math.floor(p / 2)]})`);
  header(g, p);

  linearPlot(sub(g, 0, 0, "Adj. TPR"), P.tpr, [0, 1], unitTicks, f1);
  linearPlot(sub(g, 1, 0, "Orient. recall"), P.orc, [0, 1], unitTicks, f1);
  const eT = d3.range(0, 0.15 + 1e-9, effStep[p]);
  linearPlot(sub(g, 2, 0, "Effect size"), P.eff, [0, effTop[p]], eT, d3.format(effStep[p] < 0.05 ? ".3f" : ".2f"));
  runtimePlot(sub(g, 3, 0, "Runtime [s]"), P.rt, rtDom[p], rtStep[p]);

  fprPlot(sub(g, 0, 1, "Adj. FPR"), P.fpr, panelAlpha[p]);
  linearPlot(sub(g, 1, 1, "Orient. precision"), P.opr, [0, 1], unitTicks, f1);
  const cT = d3.range(1, Math.floor(cardDom[p][1]) + 1);
  linearPlot(sub(g, 2, 1, "Cardinality"), P.card, cardDom[p], cT, d3.format("d"));
  pagPlot(sub(g, 3, 1, "True PAG"), P.pag);
});
</script>
</body>
</html>
